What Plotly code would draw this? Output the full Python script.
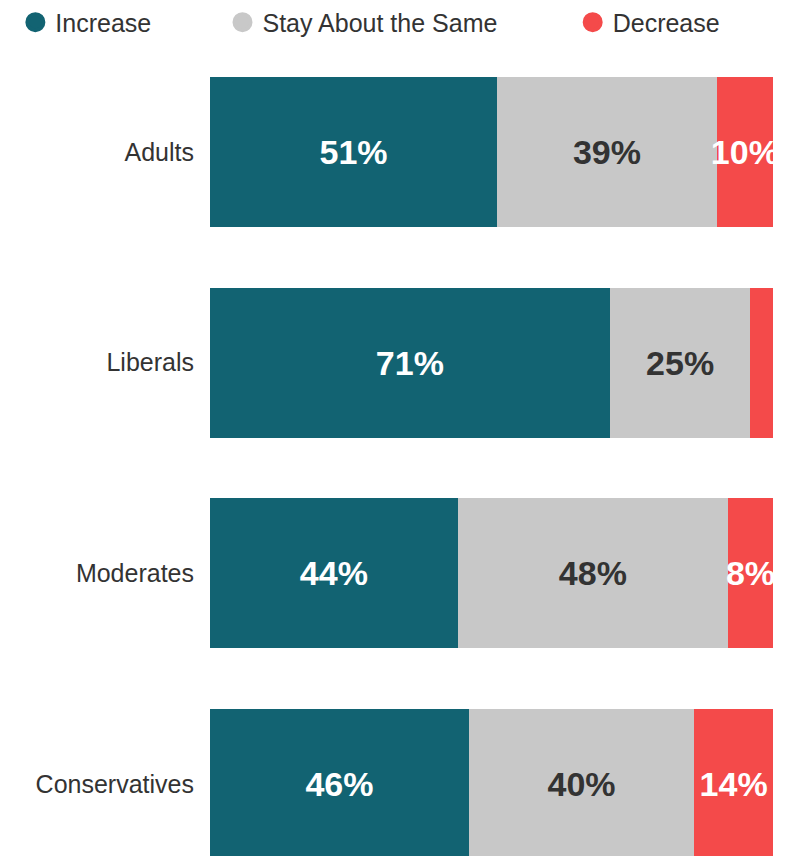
import plotly.graph_objects as go

categories = ["Adults", "Liberals", "Moderates", "Conservatives"]
increase = [51, 71, 44, 46]
same = [39, 25, 48, 40]
decrease = [10, 4, 8, 14]
series_names = ["Increase", "Stay About the Same", "Decrease"]
colors = ["#126372", "#c8c8c8", "#f44a4a"]
label_colors = ["#ffffff", "#333333", "#ffffff"]

def labels(vals):
    return [f"{v}%" if v >= 5 else "" for v in vals]

fig = go.Figure()
legend_ids = ["legend", "legend2", "legend3"]
for name, vals, col, lcol, lg in zip(series_names, [increase, same, decrease], colors, label_colors, legend_ids):
    fig.add_trace(go.Bar(
        y=categories, x=vals, orientation="h", name=name,
        marker=dict(color=col, line=dict(width=0)),
        text=labels(vals), textposition="inside", insidetextanchor="middle",
        textangle=0,
        textfont=dict(size=34, color=lcol, family="Liberation Sans, Arial", weight="bold"),
        width=0.712, showlegend=False, hoverinfo="skip", cliponaxis=True,
    ))
    fig.add_trace(go.Scatter(
        x=[None], y=[None], mode="markers", name=name,
        marker=dict(symbol="circle", size=16, color=col, line=dict(color=col, width=4)),
        showlegend=True, legend=lg,
    ))

legend_font = dict(size=25, color="#333333", family="Liberation Sans, Arial")
common = dict(orientation="h", yanchor="middle", y=1.0472, xanchor="left",
              font=legend_font, bgcolor="rgba(0,0,0,0)", itemclick=False,
              itemdoubleclick=False)
fig.update_layout(
    barmode="stack",
    width=790, height=856,
    margin=dict(l=202, r=25.3, t=52, b=8, autoexpand=False),
    paper_bgcolor="white", plot_bgcolor="white",
    legend=dict(x=-0.3457, **common),
    legend2=dict(x=0.0222, **common),
    legend3=dict(x=0.6442, **common),
    uniformtext=dict(minsize=34, mode="show"),
    xaxis=dict(range=[0, 100], visible=False, fixedrange=True),
    yaxis=dict(categoryorder="array", categoryarray=categories,
               range=[3.3417, -0.4366], autorange=False,
               showgrid=False, zeroline=False, showline=False, ticks="",
               ticklabelstandoff=15,
               tickfont=dict(size=25, color="#333333", family="Liberation Sans, Arial")),
    font=dict(family="Liberation Sans, Arial"),
)

fig.write_html("out.html")
